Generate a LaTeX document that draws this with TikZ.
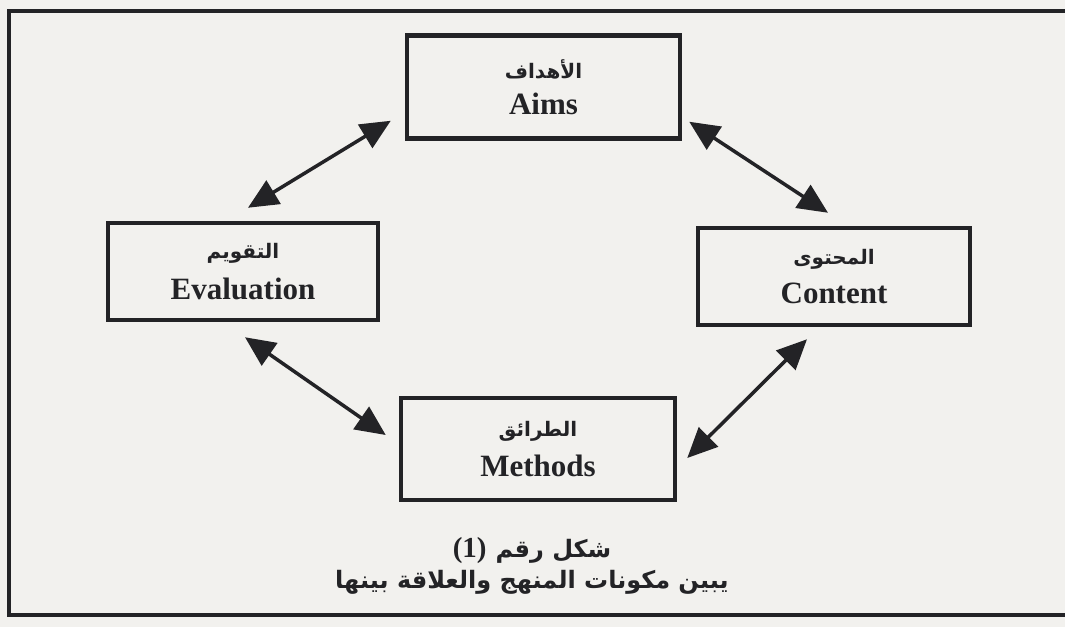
\documentclass[tikz,border=0pt]{standalone}
\usepackage{fontspec}
\setmainfont{Liberation Serif}
\newfontfamily\arabicfont[Script=Arabic]{DejaVu Sans}
\TeXXeTstate=1
\usetikzlibrary{arrows.meta}
\definecolor{paper}{RGB}{242,241,238}
\definecolor{ink}{RGB}{35,35,38}
\tikzset{
  compbox/.style={draw=ink, line width=4.5pt, minimum width=#1, inner sep=0pt, align=center, text=ink},
  biarrow/.style={draw=ink, line width=3.5pt, {Triangle[length=30pt,width=27pt]}-{Triangle[length=30pt,width=27pt]}},
  frameline/.style={draw=ink, line width=4pt}
}
\newcommand{\arlab}[1]{{\arabicfont\bfseries\fontsize{20}{22}\selectfont\beginR #1\endR}}
\newcommand{\enlab}[1]{{\bfseries\fontsize{31}{34}\selectfont #1}}
\begin{document}
\begin{tikzpicture}[x=1pt,y=-1pt]
  \useasboundingbox (0,0) rectangle (1065,627);
  \fill[paper] (0,0) rectangle (1065,627);
  \begin{scope}
    \clip (0,0) rectangle (1065,627);
    \draw[frameline] (9,11) rectangle (1090,615);
  \end{scope}
  \node[compbox=273pt, minimum height=103pt] (aims) at (543.5,87) {\arlab{الأهداف}\\[13pt]\enlab{Aims}};
  \node[compbox=270pt, minimum height=97pt] (eval) at (243,271.5) {\arlab{التقويم}\\[13pt]\enlab{Evaluation}};
  \node[compbox=272pt, minimum height=97pt] (content) at (834,276.5) {\arlab{المحتوى}\\[13pt]\enlab{Content}};
  \node[compbox=274pt, minimum height=102pt] (methods) at (538,449) {\arlab{الطرائق}\\[13pt]\enlab{Methods}};
  \draw[biarrow] ([xshift=-14pt,yshift=20pt]aims.south west) -- ([xshift=5pt,yshift=13pt]eval.north);
  \draw[biarrow] ([xshift=7pt,yshift=19pt]aims.south east) -- ([xshift=-6pt,yshift=13pt]content.north);
  \draw[biarrow] ([xshift=2pt,yshift=-15pt]eval.south) -- ([xshift=-13pt,yshift=14pt]methods.west);
  \draw[biarrow] ([xshift=-27pt,yshift=-12pt]content.south) -- ([xshift=10pt,yshift=-9pt]methods.east);
  \node[text=ink, align=center, inner sep=0pt] (caption) at (532,566)
    {{\bfseries\fontsize{29}{30}\selectfont (1)}\hspace{9pt}{\arabicfont\bfseries\fontsize{24}{28}\selectfont\beginR شكل رقم\endR}\\[6pt]
     {\arabicfont\bfseries\fontsize{24}{28}\selectfont\beginR يبين مكونات المنهج والعلاقة بينها\endR}};
\end{tikzpicture}
\end{document}
